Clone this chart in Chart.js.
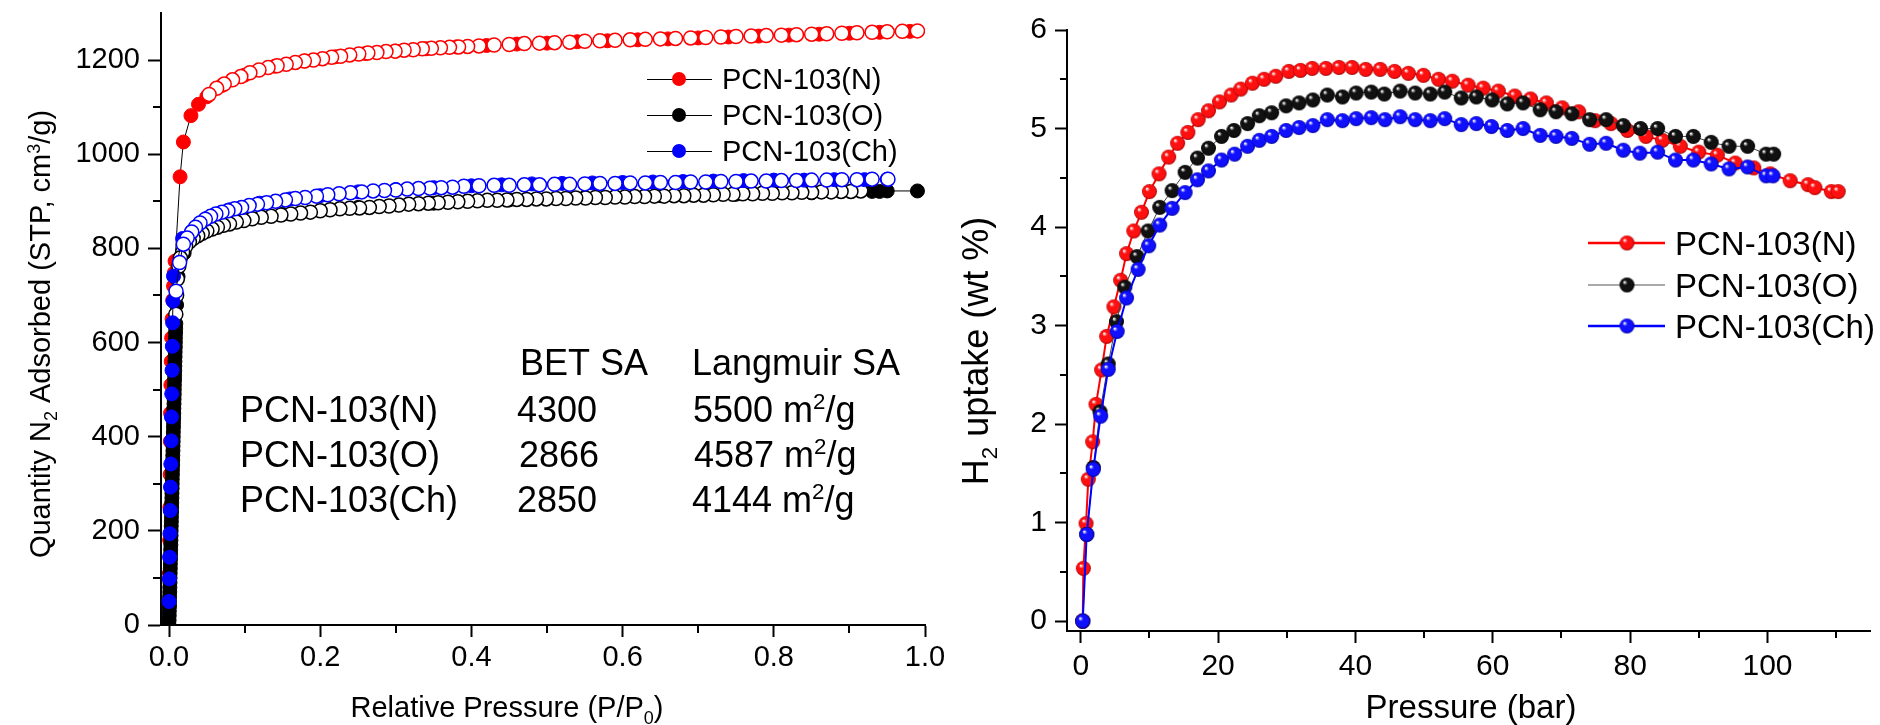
<!DOCTYPE html>
<html><head><meta charset="utf-8">
<script src="https://cdn.jsdelivr.net/npm/chart.js@4.4.1/dist/chart.umd.min.js"></script>
<style>
html,body{margin:0;padding:0;background:#fff;}
#wrap{position:relative;width:1880px;height:725px;overflow:hidden;background:#fff;}
canvas{position:absolute;top:0;}
</style></head><body>
<div id="wrap">
<canvas id="c1" width="960" height="725" style="left:0px"></canvas>
<canvas id="c2" width="920" height="725" style="left:960px"></canvas>
</div>
<script>
// ---------------- DATA ----------------
const seriesNames = ['PCN-103(N)', 'PCN-103(O)', 'PCN-103(Ch)'];
const betSA = ['4300', '2866', '2850'];
const langmuirSA = ['5500', '4587', '4144'];

// Left: N2 isotherms (relative pressure vs quantity adsorbed)
const nAdsX = [0.0003,0.0006,0.0009,0.0012,0.0015,0.0018,0.0021,0.0025,0.003,0.0035,0.004,0.005,0.006,0.007,0.008,0.0146,0.019,0.029,0.039,0.05,0.07,0.10,0.14,0.18,0.22,0.26,0.30,0.34,0.38,0.42,0.46,0.50,0.54,0.58,0.62,0.66,0.70,0.74,0.78,0.82,0.86,0.90,0.94,0.98];
const nAdsY = [40,110,180,250,320,390,450,510,560,610,650,690,720,748,773,952,1026,1082,1106,1122,1146,1168,1187,1198,1207,1214,1219,1224,1228,1231,1234,1236,1239,1241,1243,1245,1247,1249,1251,1253,1255,1257,1259,1261];
const nDesX = [0.99,0.97,0.95,0.93,0.91,0.89,0.87,0.85,0.83,0.81,0.79,0.77,0.75,0.73,0.71,0.69,0.67,0.65,0.63,0.61,0.59,0.57,0.55,0.53,0.51,0.49,0.47,0.45,0.43,0.41,0.395,0.383,0.371,0.359,0.347,0.335,0.323,0.311,0.299,0.287,0.275,0.263,0.251,0.239,0.227,0.215,0.203,0.191,0.179,0.167,0.155,0.143,0.131,0.119,0.107,0.095,0.084,0.073,0.063,0.053];
const nDesY = [1262,1261,1260,1259,1258,1257,1256,1255,1254,1253,1252,1251,1250,1249,1248,1247,1246,1245,1244,1243,1242,1241,1240,1238,1237,1236,1235,1233,1232,1230,1229,1228,1227,1226,1225,1224,1222,1221,1219,1218,1216,1215,1213,1211,1208,1206,1203,1200,1198,1195,1191,1188,1184,1179,1173,1165,1158,1149,1140,1127];

const oAdsX = [0.0000,0.0001,0.0003,0.0004,0.0006,0.0007,0.0008,0.0010,0.0011,0.0013,
  0.0014,0.0015,0.0017,0.0018,0.0020,0.0021,0.0022,0.0024,0.0025,0.0027,
  0.0028,0.0029,0.0031,0.0032,0.0034,0.0035,0.0036,0.0038,0.0039,0.0041,
  0.0042,0.0043,0.0045,0.0046,0.0048,0.0049,0.0050,0.0052,0.0053,0.0055,
  0.0056,0.0057,0.0059,0.0060,0.0062,0.0063,0.0064,0.0066,0.0067,0.0069,
  0.0070,0.0071,0.0073,0.0074,0.0076,0.0077,0.0078,0.0080,0.0081,0.0083,
  0.0084,0.0085,0.0087,0.0088,0.0090,
  0.0100,0.012,0.02,0.04,0.08,0.15,0.25,0.35,0.45,0.55,0.65,0.75,0.85,0.93,0.94,0.95,0.99];
const oAdsY = [0,10,20,30,40,50,60,70,80,90,
  100,110,120,130,140,150,160,170,180,190,
  200,210,220,230,240,250,260,270,280,290,
  300,310,320,330,340,350,360,370,380,390,
  400,410,420,430,440,450,460,470,480,490,
  500,510,520,530,540,550,560,570,580,590,
  600,610,620,630,640,
  680,740,790,830,855,872,887,896,903,908,912,915,918,921,921,922,922];
const oDesX = [0.915,0.902,0.889,0.876,0.863,0.850,0.837,0.824,0.811,0.798,0.785,0.772,0.759,0.746,0.733,0.720,0.707,0.694,0.681,0.668,0.655,0.642,0.629,0.616,0.603,0.590,0.577,0.564,0.551,0.538,0.525,0.512,0.499,0.486,0.473,0.460,0.447,0.434,0.421,0.408,0.395,0.382,0.369,0.356,0.343,0.330,0.317,0.304,0.291,0.278,0.265,0.252,0.239,0.226,0.213,0.200,0.187,0.174,0.161,0.148,0.135,0.122,0.110,0.099,0.089,0.080,0.072,0.064,0.057,0.050,0.044,0.038,0.032,0.027,0.022,0.018,0.015,0.013,0.011,0.010,0.009];
const oDesY = [922,921,921,920,920,919,919,918,918,917,917,916,916,915,915,914,913,913,912,912,911,911,910,910,909,909,908,908,907,907,906,906,905,905,904,904,903,902,902,901,900,899,898,897,896,895,894,892,890,889,887,886,885,884,882,880,877,875,873,871,868,866,863,859,856,852,849,845,841,837,832,827,821,814,804,792,780,762,735,700,660];

const chAdsX = [0.0000,0.0004,0.0008,0.0012,0.0016,0.0020,0.0024,0.0028,0.0032,0.0036,0.0040,0.0044,0.0048,0.0053,0.0060,0.018,0.03,0.05,0.08,0.12,0.16,0.20,0.25,0.30,0.35,0.40,0.44,0.48,0.52,0.56,0.60,0.64,0.68,0.72,0.76,0.80,0.84,0.88,0.92,0.95];
const chAdsY = [50,98,144,194,243,293,342,391,442,491,541,592,642,688,741,821,836,864,882,896,905,912,920,925,929,933,935,937,938,939,940,941,942,943,944,945,945,946,946,947];
const chDesX = [0.951,0.93,0.91,0.89,0.87,0.85,0.83,0.81,0.79,0.77,0.75,0.73,0.71,0.69,0.67,0.65,0.63,0.61,0.59,0.57,0.55,0.53,0.51,0.49,0.47,0.45,0.43,0.41,0.39,0.375,0.36,0.345,0.33,0.315,0.30,0.285,0.27,0.255,0.24,0.225,0.21,0.195,0.18,0.167,0.154,0.141,0.129,0.117,0.106,0.096,0.087,0.078,0.070,0.062,0.055,0.048,0.041,0.035,0.030,0.024,0.019,0.014,0.0093];
const chDesY = [947,947,946,946,945,945,944,944,943,943,942,942,941,941,940,940,939,939,938,938,937,936,936,935,935,934,934,933,932,930,929,928,927,926,924,923,922,920,918,916,914,911,908,906,903,900,897,894,891,887,884,880,877,873,868,862,854,845,835,822,809,770,709];

// Right: H2 uptake vs pressure
const h2NP = [0.29,0.38,0.77,1.1,1.74,2.22,3.04,3.77,4.83,5.8,6.67,7.72,8.84,10.0,11.4,12.8,14.1,15.6,17.1,18.6,20.2,21.9,23.3,25.0,26.7,28.4,30.3,32.0,33.7,35.7,37.6,39.5,41.5,43.6,45.7,47.7,49.9,52.1,54.1,56.4,58.6,60.8,63.2,65.5,67.8,70.1,72.5,74.9,77.2,79.6,82.3,84.7,87.3,90.0,92.7,95.3,98.0,100.4,103.3,105.9,106.9,109.3,110.3];
const h2NU = [0,0.535,0.99,1.44,1.82,2.20,2.55,2.89,3.19,3.46,3.73,3.96,4.15,4.36,4.54,4.71,4.85,4.96,5.09,5.18,5.27,5.34,5.40,5.46,5.50,5.53,5.58,5.59,5.61,5.61,5.62,5.62,5.60,5.60,5.58,5.56,5.54,5.50,5.48,5.44,5.41,5.38,5.33,5.30,5.26,5.21,5.17,5.08,5.05,4.98,4.92,4.88,4.82,4.76,4.73,4.65,4.60,4.54,4.47,4.43,4.40,4.36,4.36];
const h2OP = [0.29,0.87,1.83,2.8,4.0,5.2,6.42,8.2,9.8,11.5,13.3,15.2,17.0,18.6,20.5,22.3,24.3,26.0,27.8,29.9,31.8,33.8,35.9,38.1,40.1,42.3,44.2,46.5,48.7,50.9,53.0,55.4,57.6,59.9,62.1,64.4,66.9,69.2,71.5,74.1,76.5,79.0,81.5,84.0,86.6,89.2,91.8,94.4,97.1,99.8,100.9];
const h2OU = [0,0.88,1.56,2.125,2.61,3.04,3.39,3.70,3.96,4.20,4.37,4.555,4.70,4.80,4.92,4.98,5.05,5.13,5.16,5.23,5.26,5.29,5.34,5.32,5.36,5.37,5.35,5.38,5.36,5.35,5.37,5.31,5.32,5.29,5.25,5.26,5.19,5.17,5.15,5.09,5.09,5.03,5.00,5.00,4.92,4.92,4.86,4.82,4.82,4.74,4.74];
const h2ChP = [0.29,0.87,1.83,2.9,4.0,5.3,6.67,8.35,9.9,11.5,13.3,15.2,17.0,18.6,20.5,22.4,24.3,26.0,27.8,29.9,31.8,33.8,35.9,38.1,40.1,42.3,44.3,46.5,48.7,50.9,53.0,55.4,57.6,59.8,62.1,64.4,66.9,69.2,71.5,74.1,76.5,79.0,81.4,84.0,86.6,89.2,91.8,94.4,97.1,99.8,100.8];
const h2ChU = [0,0.88,1.54,2.08,2.555,2.94,3.28,3.57,3.81,4.02,4.19,4.35,4.48,4.57,4.68,4.74,4.82,4.88,4.92,4.98,5.01,5.03,5.09,5.08,5.10,5.11,5.09,5.12,5.09,5.08,5.10,5.04,5.05,5.02,4.98,5.00,4.93,4.92,4.90,4.84,4.85,4.78,4.75,4.76,4.68,4.68,4.64,4.59,4.61,4.52,4.52];

// Ticks
const leftXMinor = [0.1,0.3,0.5,0.7,0.9];
const leftYMinor = [100,300,500,700,900,1100];
const rightXMinor = [10,30,50,70,90,110];
const rightYMinor = [0.5,1.5,2.5,3.5,4.5,5.5];

// ---------------- HELPERS ----------------
const FAM = '"Liberation Sans", Arial, Helvetica, sans-serif';
Chart.defaults.font.family = FAM;
Chart.defaults.color = '#000';

function pts(xs, ys){ return xs.map((x,i)=>({x:x, y:ys[i]})); }

function parseRich(str){
  const out=[]; const re=/(_\{[^}]*\}|\^\{[^}]*\})/g; let last=0, m;
  while((m=re.exec(str))){ if(m.index>last) out.push({t:str.slice(last,m.index)});
    const s=m[0]; out.push({t:s.slice(2,-1), sub:s[0]==='_', sup:s[0]==='^'}); last=re.lastIndex; }
  if(last<str.length) out.push({t:str.slice(last)});
  return out;
}
function richText(ctx, str, x, y, size, align, rot){
  const segs=parseRich(str);
  ctx.save(); ctx.translate(x,y); if(rot) ctx.rotate(rot);
  let total=0;
  const parts=segs.map(s=>{ const sz=(s.sub||s.sup)?size*0.62:size; ctx.font=sz+'px '+FAM; const w=ctx.measureText(s.t).width; total+=w; return {s,sz,w}; });
  let cx = align==='center' ? -total/2 : 0;
  ctx.fillStyle='#000'; ctx.textBaseline='alphabetic'; ctx.textAlign='left';
  for(const p of parts){ ctx.font=p.sz+'px '+FAM; const dy=p.s.sub?size*0.24:(p.s.sup?-size*0.36:0); ctx.fillText(p.s.t,cx,dy); cx+=p.w; }
  ctx.restore();
}
function ball(color, dark, r){
  const c=document.createElement('canvas'); const s=Math.ceil(2*r+2); c.width=s; c.height=s;
  const g=c.getContext('2d'); const cx=s/2, cy=s/2;
  const grad=g.createRadialGradient(cx-r*0.35, cy-r*0.4, r*0.05, cx, cy, r);
  grad.addColorStop(0,'#ffffff'); grad.addColorStop(0.28,color); grad.addColorStop(0.8,color); grad.addColorStop(1,dark);
  g.fillStyle=grad; g.beginPath(); g.arc(cx,cy,r,0,Math.PI*2); g.fill();
  return c;
}
function minorTicks(xMinor, yMinor, len){
  return { id:'minorTicks', afterDraw(chart){
    const ctx=chart.ctx, xs=chart.scales.x, ys=chart.scales.y;
    ctx.save(); ctx.strokeStyle='#000'; ctx.lineWidth=2;
    for(const v of xMinor){ const p=Math.round(xs.getPixelForValue(v)); ctx.beginPath(); ctx.moveTo(p, xs.top); ctx.lineTo(p, xs.top+len); ctx.stroke(); }
    for(const v of yMinor){ const p=Math.round(ys.getPixelForValue(v)); ctx.beginPath(); ctx.moveTo(ys.right, p); ctx.lineTo(ys.right-len, p); ctx.stroke(); }
    ctx.restore();
  }};
}
function fixBox(w, h){
  return {
    y: function(s){ s.width=w; s.paddingTop=0; s.paddingBottom=0; s.paddingLeft=0; s.paddingRight=0; },
    x: function(s){ s.height=h; s.paddingTop=0; s.paddingBottom=0; s.paddingLeft=0; s.paddingRight=0; }
  };
}

// ---------------- LEFT CHART ----------------
const RED='#ff0000', BLK='#000000', BLU='#0000ff';
function ds(data, col, filled, order){
  return { data, order, showLine:true, borderColor:'#000', borderWidth:1,
    pointRadius:7, pointHoverRadius:7, pointBackgroundColor: filled?col:'#ffffff',
    pointBorderColor: col, pointBorderWidth: filled?1:1.5, tension:0 };
}
const fb1 = fixBox(161, 100);
const leftAnno = { id:'leftAnno', afterDraw(chart){
  const ctx=chart.ctx;
  richText(ctx, 'Quantity N_{2} Adsorbed (STP, cm^{3}/g)', 50, 334, 29, 'center', -Math.PI/2);
  richText(ctx, 'Relative Pressure (P/P_{0})', 507, 717, 29, 'center', 0);
  // table
  richText(ctx, 'BET SA', 520, 375, 36, 'left');
  richText(ctx, 'Langmuir SA', 692, 375, 36, 'left');
  const base=[422,467,512], bx=[517,519,517], lx=[693,694,692];
  for(let i=0;i<3;i++){
    richText(ctx, seriesNames[i], 240, base[i], 36, 'left');
    richText(ctx, betSA[i], bx[i], base[i], 36, 'left');
    richText(ctx, langmuirSA[i]+' m^{2}/g', lx[i], base[i], 36, 'left');
  }
  // legend
  const cols=[RED,BLK,BLU], ly=[79,115,151];
  ctx.save();
  for(let i=0;i<3;i++){
    ctx.strokeStyle='#000'; ctx.lineWidth=1; ctx.beginPath(); ctx.moveTo(647,ly[i]+0.5); ctx.lineTo(712,ly[i]+0.5); ctx.stroke();
    ctx.fillStyle=cols[i]; ctx.beginPath(); ctx.arc(679,ly[i],7,0,Math.PI*2); ctx.fill();
    richText(ctx, seriesNames[i], 722, ly[i]+10, 29, 'left');
  }
  ctx.restore();
}};
new Chart(document.getElementById('c1'), {
  type:'scatter',
  data:{ datasets:[
    ds(pts(chDesX,chDesY), BLU, false, 1),
    ds(pts(chAdsX,chAdsY), BLU, true, 2),
    ds(pts(oDesX,oDesY), BLK, false, 3),
    ds(pts(oAdsX,oAdsY), BLK, true, 4),
    ds(pts(nDesX,nDesY), RED, false, 5),
    ds(pts(nAdsX,nAdsY), RED, true, 6)
  ]},
  options:{
    responsive:false, devicePixelRatio:1, animation:false, events:[],
    layout:{ padding:{ left:0, top:13, right:35, bottom:0 } },
    plugins:{ legend:{display:false}, tooltip:{enabled:false} },
    scales:{
      x:{ type:'linear', min:-0.0106, max:1.0,
        ticks:{ stepSize:0.2, includeBounds:false, font:{size:29}, color:'#000', padding:4,
          callback:(v)=>v.toFixed(1) },
        grid:{ display:true, drawOnChartArea:false, drawTicks:true, tickLength:12, tickWidth:2, tickColor:'#000', color:'#000' },
        border:{ display:true, color:'#000', width:2 },
        afterFit: fb1.x },
      y:{ type:'linear', min:0, max:1300,
        ticks:{ stepSize:200, includeBounds:false, font:{size:29}, color:'#000', padding:8,
          callback:(v)=>String(v) },
        grid:{ display:true, drawOnChartArea:false, drawTicks:true, tickLength:13, tickWidth:2, tickColor:'#000', color:'#000' },
        border:{ display:true, color:'#000', width:2 },
        afterFit: fb1.y }
    }
  },
  plugins:[ minorTicks(leftXMinor, leftYMinor, 8), leftAnno ]
});

// ---------------- RIGHT CHART ----------------
const ballR = ball('#ff1010', '#a00000', 7.5);
const ballK = ball('#111111', '#000000', 7.5);
const ballB = ball('#1010ff', '#0000a0', 7.5);
function ds2(data, lineCol, lw, img, order){
  return { data, order, showLine:true, borderColor:lineCol, borderWidth:lw, pointStyle:img,
    pointRadius:7.5, pointHoverRadius:7.5, tension:0 };
}
const fb2 = fixBox(107, 94);
const rightAnno = { id:'rightAnno', afterDraw(chart){
  const ctx=chart.ctx;
  richText(ctx, 'H_{2} uptake (wt %)', 28, 351, 36, 'center', -Math.PI/2);
  richText(ctx, 'Pressure (bar)', 511, 718, 33, 'center', 0);
  const lc=['#ff0000','#555555','#0000ff'], lw=[2.5,1.2,2.5], imgs=[ballR,ballK,ballB], ly=[243,285,326];
  ctx.save();
  for(let i=0;i<3;i++){
    ctx.strokeStyle=lc[i]; ctx.lineWidth=lw[i]; ctx.beginPath(); ctx.moveTo(628,ly[i]); ctx.lineTo(705,ly[i]); ctx.stroke();
    ctx.drawImage(imgs[i], 667-imgs[i].width/2, ly[i]-imgs[i].height/2);
    richText(ctx, seriesNames[i], 715, ly[i]+12, 33, 'left');
  }
  ctx.restore();
}};
new Chart(document.getElementById('c2'), {
  type:'scatter',
  data:{ datasets:[
    ds2(pts(h2ChP,h2ChU), '#0000ff', 2, ballB, 1),
    ds2(pts(h2OP,h2OU), '#444444', 1, ballK, 2),
    ds2(pts(h2NP,h2NU), '#ff0000', 2, ballR, 3)
  ]},
  options:{
    responsive:false, devicePixelRatio:1, animation:false, events:[],
    layout:{ padding:{ left:0, top:30, right:5, bottom:0 } },
    plugins:{ legend:{display:false}, tooltip:{enabled:false} },
    scales:{
      x:{ type:'linear', min:-2, max:115,
        ticks:{ stepSize:20, includeBounds:false, font:{size:30}, color:'#000', padding:6,
          callback:(v)=>String(v) },
        grid:{ display:true, drawOnChartArea:false, drawTicks:true, tickLength:12, tickWidth:2, tickColor:'#000', color:'#000' },
        border:{ display:true, color:'#000', width:2 },
        afterFit: fb2.x },
      y:{ type:'linear', min:-0.1, max:6,
        ticks:{ stepSize:1, includeBounds:false, font:{size:30}, color:'#000', padding:8,
          callback:(v)=>String(v) },
        grid:{ display:true, drawOnChartArea:false, drawTicks:true, tickLength:12, tickWidth:2, tickColor:'#000', color:'#000' },
        border:{ display:true, color:'#000', width:2 },
        afterFit: fb2.y }
    }
  },
  plugins:[ minorTicks(rightXMinor, rightYMinor, 7), rightAnno ]
});
</script>
</body></html>
